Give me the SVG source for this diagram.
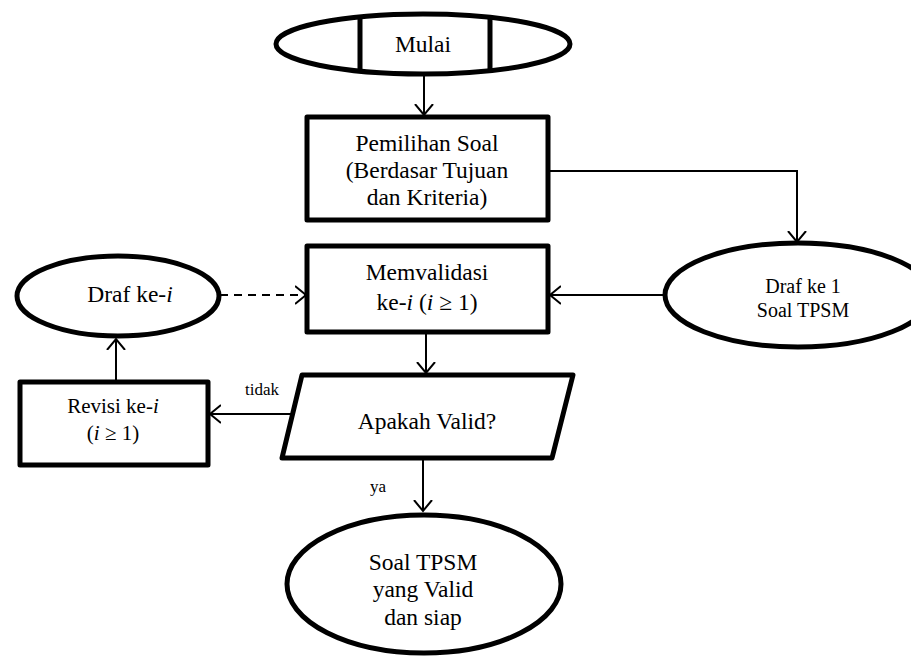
<svg xmlns="http://www.w3.org/2000/svg" width="911" height="657" viewBox="0 0 911 657" font-family="'Liberation Serif', 'DejaVu Serif', serif">
  <defs>
    <marker id="arrow" markerWidth="14" markerHeight="20" refX="11" refY="10" orient="auto" markerUnits="userSpaceOnUse">
      <path d="M0,1 L11,10 L0,19" fill="none" stroke="#000" stroke-width="2"/>
    </marker>
  </defs>
  <style>
    .shape { fill: #fff; stroke: #000; stroke-width: 5; stroke-linejoin: round; }
    .conn { fill: none; stroke: #000; stroke-width: 2; }
    .dash { stroke-dasharray: 8 6; }
    text { fill: #000; text-anchor: middle; }
    .t24 { font-size: 23.5px; }
    .t21 { font-size: 21px; }
    .t20 { font-size: 20px; }
    .lbl { font-size: 17px; }
    .mi { font-style: italic; }
  </style>
  <rect width="911" height="657" fill="#fff"/>

  <!-- connectors -->
  <g id="connectors">
    <path class="conn" d="M424,75 L424,115" marker-end="url(#arrow)"/>
    <path class="conn" d="M548,171 L797,171 L797,242" marker-end="url(#arrow)"/>
    <path class="conn" d="M665,295 L550,295" marker-end="url(#arrow)"/>
    <path class="conn dash" d="M220,295 L306,295" marker-end="url(#arrow)"/>
    <path class="conn" d="M426,333 L426,373" marker-end="url(#arrow)"/>
    <path class="conn" d="M292,414 L210,414" marker-end="url(#arrow)"/>
    <path class="conn" d="M116,381 L116,339" marker-end="url(#arrow)"/>
    <path class="conn" d="M423,459 L423,511" marker-end="url(#arrow)"/>
    <text class="lbl" x="262" y="395">tidak</text>
    <text class="lbl" x="378" y="492">ya</text>
  </g>

  <!-- start terminator -->
  <g id="mulai">
    <ellipse class="shape" cx="423" cy="44" rx="147" ry="30"/>
    <path d="M360,15 L360,73 M490,15 L490,73" stroke="#000" stroke-width="5"/>
    <text class="t24" x="423" y="52">Mulai</text>
  </g>

  <g id="pemilihan">
    <rect class="shape" x="307" y="117" width="241" height="103"/>
    <text class="t24" x="427" y="151">Pemilihan Soal</text>
    <text class="t24" x="427" y="178">(Berdasar Tujuan</text>
    <text class="t24" x="427" y="205">dan Kriteria)</text>
  </g>

  <g id="draf1">
    <ellipse class="shape" cx="798" cy="295" rx="133" ry="52"/>
    <text class="t20" x="803" y="293">Draf ke 1</text>
    <text class="t20" x="803" y="317">Soal TPSM</text>
  </g>

  <g id="memvalidasi">
    <rect class="shape" x="307" y="246" width="241" height="86"/>
    <text class="t24" x="427" y="280">Memvalidasi</text>
    <text class="t24" x="427" y="310">ke-<tspan class="mi">i</tspan> (<tspan class="mi">i</tspan> ≥ 1)</text>
  </g>

  <g id="drafi">
    <ellipse class="shape" cx="118" cy="296" rx="101" ry="40"/>
    <text class="t24" x="130" y="302">Draf ke-<tspan class="mi">i</tspan></text>
  </g>

  <g id="valid">
    <polygon class="shape" points="302,375 573,375 552,458 282,458"/>
    <text class="t24" x="427" y="429">Apakah Valid?</text>
  </g>

  <g id="revisi">
    <rect class="shape" x="20" y="382" width="188" height="83"/>
    <text class="t21" x="113" y="413">Revisi ke-<tspan class="mi">i</tspan></text>
    <text class="t21" x="113" y="440">(<tspan class="mi">i</tspan> ≥ 1)</text>
  </g>

  <g id="selesai">
    <ellipse class="shape" cx="424" cy="584" rx="137" ry="69"/>
    <text class="t24" x="423" y="570">Soal TPSM</text>
    <text class="t24" x="423" y="597">yang Valid</text>
    <text class="t24" x="423" y="625">dan siap</text>
  </g>
</svg>
